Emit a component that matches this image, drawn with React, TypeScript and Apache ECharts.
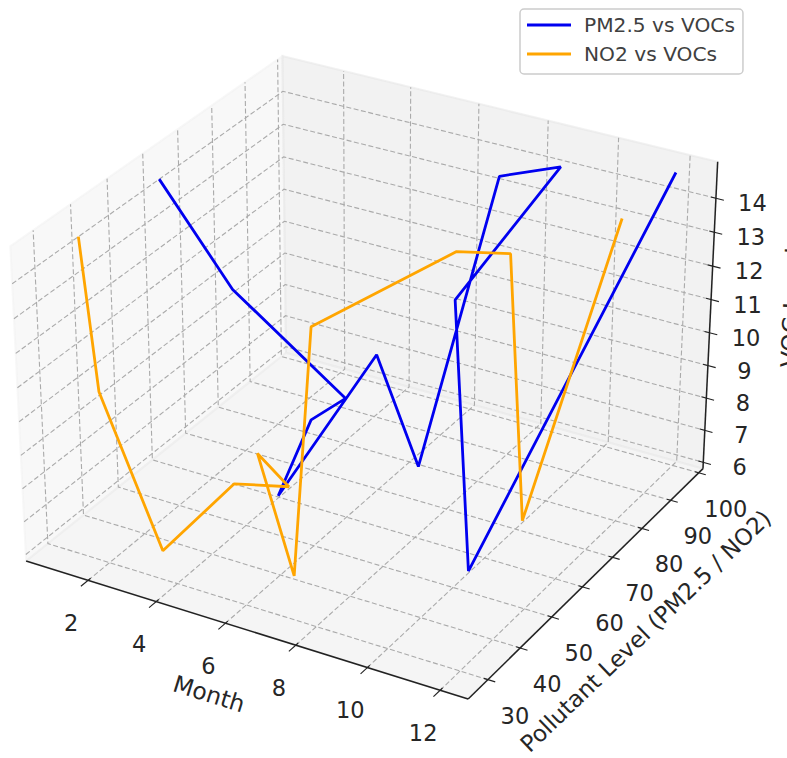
import React, { useEffect, useRef } from "react";
import * as echarts from "echarts";

const months = [1, 2, 3, 4, 5, 6, 7, 8, 9, 10, 11, 12];
const pm25 = [56.4, 67.0, 91.3, 70.0, 49.7, 69.4, 71.9, 85.7, 94.2, 49.6, 43.5, 96.7];
const no2 = [34.1, 28.9, 35.6, 46.8, 52.9, 33.9, 33.9, 29.2, 61.1, 66.6, 60.5, 78.7];
const vocs = [14.8, 11.02, 5.98, 7.36, 7.05, 9.98, 6.65, 14.56, 14.48, 14.27, 7.21, 14.9];
const monthTicks = [2, 4, 6, 8, 10, 12];
const pollutantTicks = [30, 40, 50, 60, 70, 80, 90, 100];
const vocTicks = [6, 7, 8, 9, 10, 11, 12, 13, 14];

const xlo = 0.15, xhi = 12.76, plo = 24, phi = 101.5, zlo = 5.8, zhi = 15.06;
const A = 0.5953, C = 0.441, sx = 4252, sy = 4067, X0 = 370.8, Y0 = 362;

// Matplotlib's default 3D view (elev 30, azim -60, dist 10) fitted to the page.
function project(m: number, p: number, v: number): [number, number] {
  const a = ((m - xlo) / (xhi - xlo)) * 2 * A - A;
  const b = ((p - plo) / (phi - plo)) * 2 * A - A;
  const c = ((v - zlo) / (zhi - zlo)) * 2 * C - C;
  const xv = 0.866 * a + 0.5 * b;
  const yv = -0.25 * a + 0.433 * b + 0.866 * c;
  const zv = 0.433 * a - 0.75 * b + 0.5 * c;
  const D = 10 - zv;
  return [X0 + (sx * xv) / D, Y0 - (sy * yv) / D];
}

const FONT = "DejaVu Sans";
const INK = "#262626";
const TICK_SIZE = 22.5;
const TITLE_SIZE = 23.5;

function frame(api: any) {
  const P = (m: number, p: number, v: number) => api.coord(project(m, p, v));
  const kids: any[] = [];
  const pane = (pts: number[][], col: string) =>
    kids.push({
      type: "polygon",
      shape: { points: pts },
      style: { fill: col, stroke: col, lineWidth: 2 },
    });
  pane([P(xlo, plo, zlo), P(xlo, phi, zlo), P(xlo, phi, zhi), P(xlo, plo, zhi)], "rgba(242,242,242,0.5)");
  pane([P(xlo, phi, zlo), P(xhi, phi, zlo), P(xhi, phi, zhi), P(xlo, phi, zhi)], "rgba(230,230,230,0.5)");
  pane([P(xlo, plo, zlo), P(xhi, plo, zlo), P(xhi, phi, zlo), P(xlo, phi, zlo)], "rgba(236,236,236,0.5)");

  const poly = (pts: number[][], stroke: string, lineWidth: number, dash?: number[]) =>
    kids.push({
      type: "polyline",
      shape: { points: pts },
      style: { stroke, lineWidth, fill: "none", lineDash: dash },
    });
  const grid = (pts: number[][]) => poly(pts, "#aaaaaa", 1.1, [5, 2.5]);
  monthTicks.forEach((m) => grid([P(m, plo, zlo), P(m, phi, zlo), P(m, phi, zhi)]));
  pollutantTicks.forEach((p) => grid([P(xhi, p, zlo), P(xlo, p, zlo), P(xlo, p, zhi)]));
  vocTicks.forEach((v) => grid([P(xlo, plo, v), P(xlo, phi, v), P(xhi, phi, v)]));

  const axis = "#222222";
  poly([P(xlo, plo, zlo), P(xhi, plo, zlo)], axis, 1.5);
  poly([P(xhi, plo, zlo), P(xhi, phi, zlo)], axis, 1.5);
  poly([P(xhi, phi, zlo), P(xhi, phi, zhi)], axis, 1.5);

  const label = (pt: number[], dx: number, dy: number, text: string) =>
    kids.push({
      type: "text",
      x: pt[0] + dx,
      y: pt[1] + dy,
      style: { text, font: `${TICK_SIZE}px '${FONT}'`, fill: INK, align: "center", verticalAlign: "middle" },
    });
  monthTicks.forEach((m) => {
    poly([P(m, plo - 2, zlo), P(m, plo + 0.7, zlo)], axis, 1.1);
    label(P(m, plo, zlo), -17, 42.5, String(m));
  });
  pollutantTicks.forEach((p) => {
    poly([P(xhi - 0.11, p, zlo), P(xhi + 0.2, p, zlo)], axis, 1.1);
    label(P(xhi, p, zlo), 27, 36, String(p));
  });
  vocTicks.forEach((v) => {
    poly([P(xhi - 0.14, phi, v), P(xhi + 0.22, phi, v)], axis, 1.1);
    label(P(xhi, phi, v), 36.5, 5, String(v));
  });

  const title = (x: number, y: number, rotation: number, text: string, size: number) =>
    kids.push({
      type: "text",
      x,
      y,
      rotation,
      originX: 0,
      originY: 0,
      style: { text, font: `${size}px '${FONT}'`, fill: INK, align: "center", verticalAlign: "middle" },
    });
  title(209, 694, -0.303, "Month", TITLE_SIZE);
  title(645.7, 631, 0.766, "Pollutant Level (PM2.5 / NO2)", 23);
  title(792, 307.5, 1.526, "VOC Level", TITLE_SIZE);
  return { type: "group", children: kids };
}

export default function App() {
  const ref = useRef<HTMLDivElement>(null);
  useEffect(() => {
    const chart = echarts.init(ref.current!, undefined, { renderer: "svg" });
    const lineData = (vals: number[]) => months.map((m, i) => project(m, vals[i], vocs[i]));
    chart.setOption({
      animation: false,
      backgroundColor: "#ffffff",
      grid: { left: 0, right: 0, top: 0, bottom: 0 },
      xAxis: { type: "value", min: 0, max: 787, show: false },
      yAxis: { type: "value", min: 0, max: 758, inverse: true, show: false },
      legend: {
        orient: "vertical",
        left: 520,
        top: 9,
        padding: [6, 8, 10, 7],
        icon: "rect",
        itemWidth: 44,
        itemHeight: 3,
        itemGap: 9,
        backgroundColor: "#ffffff",
        borderColor: "#cccccc",
        borderWidth: 1.5,
        borderRadius: 4,
        textStyle: { fontFamily: FONT, fontSize: 20.2, color: "#404040", padding: [0, 0, 0, 8] },
        data: ["PM2.5 vs VOCs", "NO2 vs VOCs"],
      },
      series: [
        {
          type: "custom",
          silent: true,
          z: 1,
          clip: false,
          data: [[0, 0]],
          renderItem: (_p: any, api: any) => frame(api),
        },
        {
          name: "PM2.5 vs VOCs",
          type: "line",
          z: 3,
          showSymbol: false,
          symbol: "none",
          clip: false,
          lineStyle: { color: "#0000f0", width: 2.8 },
          itemStyle: { color: "#0000f0" },
          data: lineData(pm25),
        },
        {
          name: "NO2 vs VOCs",
          type: "line",
          z: 4,
          showSymbol: false,
          symbol: "none",
          clip: false,
          lineStyle: { color: "#ffa500", width: 2.8 },
          itemStyle: { color: "#ffa500" },
          data: lineData(no2),
        },
      ],
    });
    return () => chart.dispose();
  }, []);
  return <div ref={ref} style={{ position: "absolute", left: 0, top: 0, width: 787, height: 758 }} />;
}
